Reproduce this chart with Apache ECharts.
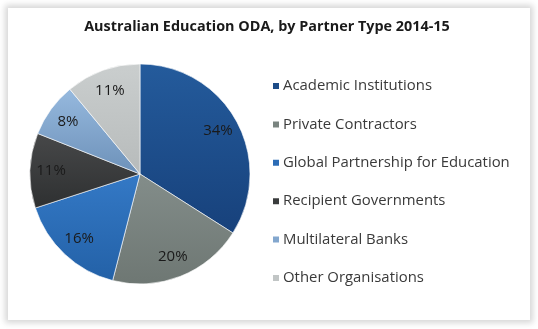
<!DOCTYPE html>
<html><head><meta charset="utf-8">
<script src="https://cdn.jsdelivr.net/npm/echarts@6/dist/echarts.min.js"></script>
<style>
html,body{margin:0;padding:0;background:#fff;width:538px;height:329px;overflow:hidden;}
#frame{position:absolute;left:8px;top:8px;width:522px;height:312px;background:#fff;box-shadow:0 0 6px 3px rgba(0,0,0,0.16);}
#c{position:absolute;left:0;top:0;width:538px;height:329px;}
</style></head>
<body><div id="frame"></div><div id="c"></div>
<script>
const categories = ['Academic Institutions','Private Contractors','Global Partnership for Education','Recipient Governments','Multilateral Banks','Other Organisations'];
const values = [34, 20, 16, 11, 8, 11];
const colorsTop = ['#245B9C','#838D8A','#3479C6','#474849','#96B9DE','#CACECE'];
const colorsBottom = ['#17417B','#6E7773','#2361A7','#2E3031','#6D91B9','#B7BBBB'];
const legendColors = ['#1D4C88','#7A8480','#2C6CB6','#3A3C3D','#83A7CE','#C1C5C5'];

const chart = echarts.init(document.getElementById('c'), null, {renderer:'canvas'});
const grad = i => new echarts.graphic.LinearGradient(0,0,0,1,[{offset:0,color:colorsTop[i]},{offset:1,color:colorsBottom[i]}]);
chart.setOption({
  animation:false,
  title:{text:'Australian Education ODA, by Partner Type 2014-15',left:262,top:15,textAlign:'center',
    textStyle:{fontFamily:'Open Sans',fontSize:14.4,fontWeight:'bold',color:'#1a1a1a'}},
  legend:{orient:'vertical',left:266,top:73,itemWidth:8,itemHeight:8,itemGap:22.4,icon:'rect',
    textStyle:{fontFamily:'Open Sans',fontSize:14.9,color:'#3a3a3a',lineHeight:16,padding:[0,0,0,-2]},
    data:categories.map((n,i)=>({name:n,itemStyle:{color:legendColors[i]}}))},
  series:[
    {type:'pie',center:[140,174],radius:[0,110],startAngle:90,clockwise:true,silent:true,
     label:{show:false},labelLine:{show:false},
     itemStyle:{borderColor:'#ffffff',borderWidth:0.6},
     data:categories.map((n,i)=>({name:n,value:values[i],itemStyle:{color:grad(i)}}))},
    {type:'pie',center:[140,174],radius:[62,110],startAngle:90,clockwise:true,silent:true,
     itemStyle:{color:'rgba(0,0,0,0)'},
     label:{show:true,position:'inside',formatter:'{d}%',fontFamily:'Open Sans',fontSize:15,color:'#1a1a1a'},
     labelLine:{show:false},
     data:categories.map((n,i)=>({name:n,value:values[i]}))}
  ]
});
</script></body></html>
